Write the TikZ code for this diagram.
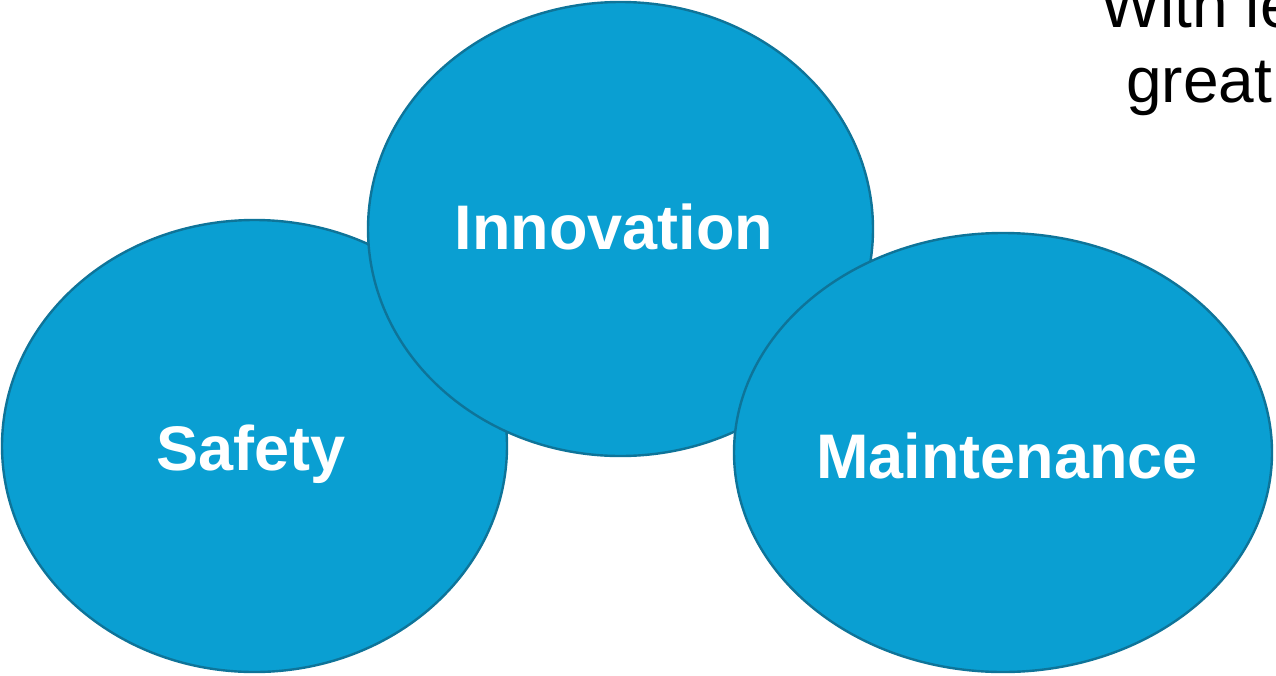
\documentclass[tikz,border=0pt]{standalone}
\usepackage{fontspec}
\setmainfont{Liberation Sans}
\usetikzlibrary{shapes.geometric}
\definecolor{bubblefill}{HTML}{0A9FD2}
\definecolor{bubbleline}{HTML}{0E7499}
\tikzset{
  bubble/.style={ellipse, draw=bubbleline, line width=2.4pt, fill=bubblefill, inner sep=0pt},
  bubbletext/.style={anchor=base, text=white, inner sep=0pt, font=\fontsize{63}{75}\selectfont\bfseries},
  sidetext/.style={anchor=base west, text=black, inner sep=0pt, font=\fontsize{64}{75}\selectfont}
}
\begin{document}
\begin{tikzpicture}[x=1pt,y=-1pt]
\useasboundingbox (0,0) rectangle (1276,675);
\clip (0,0) rectangle (1276,675);
\fill[white] (0,0) rectangle (1276,675);
\node[bubble, minimum width=505pt, minimum height=452pt] (safety) at (254.5,446) {};
\node[bubble, minimum width=505pt, minimum height=454pt] (innovation) at (620.5,229) {};
\node[bubble, minimum width=538pt, minimum height=439pt] (maintenance) at (1003,452.5) {};
\node[bubbletext] (tsafety) at (251,470) {Safety};
\node[bubbletext] (tinnovation) at (614,249) {Innovation};
\node[bubbletext] (tmaintenance) at (1007,478) {Maintenance};
\node[sidetext] (line1) at (1100,27) {With le};
\node[sidetext] (line2) at (1126,102) {great};
\end{tikzpicture}
\end{document}
